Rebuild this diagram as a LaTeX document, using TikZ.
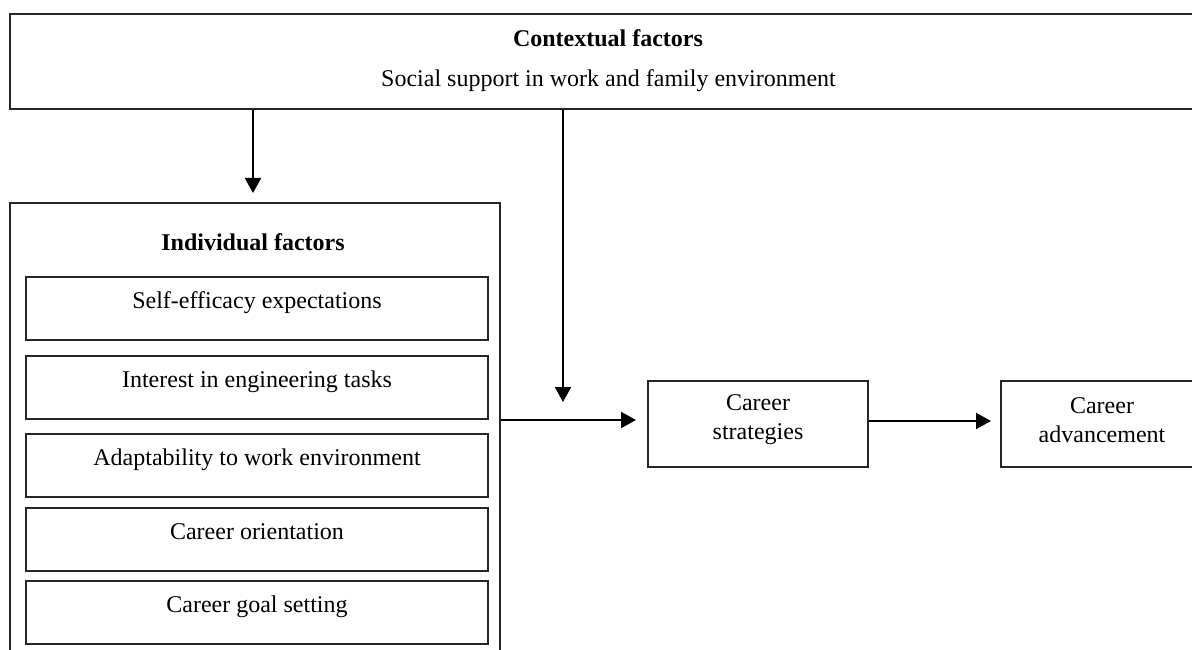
\documentclass[tikz,border=0pt]{standalone}
\usepackage{fontspec}
\setmainfont{Liberation Serif}
\usetikzlibrary{arrows.meta}
\begin{document}
\begin{tikzpicture}[x=1pt,y=-1pt,
  box/.style={draw=black!85,line width=1.1pt,rectangle,inner sep=0pt},
  txt/.style={inner sep=0pt,anchor=base,font=\fontsize{24}{29}\selectfont},
  btxt/.style={txt,font=\fontsize{24}{29}\selectfont\bfseries},
  ctxt/.style={inner sep=0pt,align=center,font=\fontsize{24}{29}\selectfont},
  arr/.style={line width=2pt,-{Triangle[length=15pt,width=16pt]}}]
\useasboundingbox (0,0) rectangle (1192,650);
% contextual factors
\node[box,minimum width=1197pt,minimum height=95pt] (ctx) at (608.5,61.5) {};
\node[btxt] (ctxtitle) at (608,47) {Contextual factors};
\node[txt] (ctxtext) at (608.5,87) {Social support in work and family environment};
% individual factors
\node[box,minimum width=490pt,minimum height=460pt] (ind) at (255,433) {};
\node[btxt] (indtitle) at (253,250) {Individual factors};
\foreach \n/\t/\s in {f1/277/Self-efficacy expectations,
                     f2/356/Interest in engineering tasks,
                     f3/434/Adaptability to work environment,
                     f4/508/Career orientation,
                     f5/581/Career goal setting}{
  \node[box,minimum width=462pt,minimum height=63pt] (\n) at (257,\t+31.5) {};
  \node[txt] (\n t) at (257,\t+31) {\s};
}
% right boxes
\node[box,minimum width=220pt,minimum height=86pt] (cs) at (758,424) {};
\node[ctxt] (cst) at (758,420) {Career\\strategies};
\node[box,minimum width=202pt,minimum height=86pt] (ca) at (1102,424) {};
\node[ctxt] (cat) at (1102,420) {Career\\advancement};
% arrows
\coordinate (t1) at (253,193);
\coordinate (t2) at (563,402);
\coordinate (t3) at (636,420);
\coordinate (t4) at (991,421);
\draw[arr] (ctx.south -| t1) -- (t1);
\draw[arr] (ctx.south -| t2) -- (t2);
\draw[arr] (ind.east |- t3) -- (t3);
\draw[arr] (cs.east |- t4) -- (t4);
\end{tikzpicture}
\end{document}
